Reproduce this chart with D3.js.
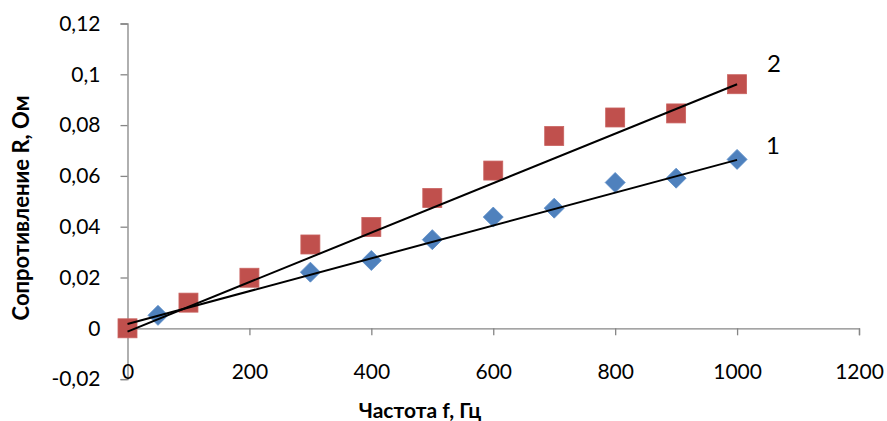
<!DOCTYPE html>
<html>
<head>
<meta charset="utf-8">
<script src="https://cdn.jsdelivr.net/npm/d3@7"></script>
<style>
  html, body { margin: 0; padding: 0; background: #fff; }
  svg { display: block; }
  text { font-family: Lato, "Open Sans", sans-serif; fill: #000; }
</style>
</head>
<body>
<svg id="chart" width="887" height="421"></svg>
<script>
// Frequency (Hz) and resistance (Ohm) for the two samples
const freq1 = [50, 300, 400, 500, 600, 700, 800, 900, 1000];
const res1  = [0.0051, 0.0221, 0.0267, 0.0349, 0.0438, 0.0473, 0.0574, 0.0591, 0.0665];

const freq2 = [0, 100, 200, 300, 400, 500, 600, 700, 800, 900, 1000];
const res2  = [0, 0.0101, 0.0199, 0.033, 0.0399, 0.0513, 0.0621, 0.0757, 0.083, 0.0846, 0.0961];

// Linear trend lines: values at the ends of the frequency range
const trendFreq = [0, 1000];
const trend1 = [0.0017, 0.0663];
const trend2 = [-0.0013, 0.0961];

const xTicks = [0, 200, 400, 600, 800, 1000, 1200];
const yTicks = [-0.02, 0, 0.02, 0.04, 0.06, 0.08, 0.1, 0.12];

const seriesLabels = ["1", "2"];
const xTitle = "Частота f, Гц";
const yTitle = "Сопротивление R, Ом";

const svg = d3.select("#chart");
const axisColor = "#868686";
const blue = "#4F81BD";
const red = "#C0504D";

const x = d3.scaleLinear().domain([0, 1200]).range([127.5, 859]);
const y = d3.scaleLinear().domain([-0.02, 0.12]).range([379.1, 23.5]);

// Decimal comma, plain hyphen for negatives
const fmtY = v => (Math.abs(v) < 1e-9 ? "0" : String(+v.toFixed(3)).replace(".", ","));

// Y axis (vertical line at f = 0)
const yAxis = d3.axisLeft(y).tickValues(yTicks).tickSize(7).tickPadding(20)
  .tickFormat(fmtY);
const gy = svg.append("g").attr("transform", `translate(${x(0)},0)`).call(yAxis);
gy.select(".domain").attr("stroke", axisColor).attr("stroke-width", 1.3);
gy.selectAll(".tick line").attr("stroke", axisColor).attr("stroke-width", 1.3);
gy.selectAll(".tick text").attr("font-size", 21).attr("font-family", "Lato, sans-serif")
  .attr("fill", "#000");

// X axis (horizontal line at R = 0), labels placed along the bottom
const xAxis = d3.axisBottom(x).tickValues(xTicks).tickSize(7).tickFormat(d3.format("d"))
  .tickPadding(0);
const gx = svg.append("g").attr("transform", `translate(0,${y(0)})`).call(xAxis);
gx.select(".domain").attr("stroke", axisColor).attr("stroke-width", 1.3);
gx.selectAll(".tick line").attr("stroke", axisColor).attr("stroke-width", 1.3);
gx.selectAll(".tick text").attr("font-size", 21).attr("font-family", "Lato, sans-serif")
  .attr("fill", "#000").attr("dy", null).attr("y", 379.5 - y(0));

// Markers: series 1 diamonds, series 2 squares
const d1 = freq1.map((f, i) => [f, res1[i]]);
const d2 = freq2.map((f, i) => [f, res2[i]]);

svg.append("g").selectAll("path").data(d1).join("path")
  .attr("d", d3.symbol().type(d3.symbolSquare).size(200))
  .attr("transform", d => `translate(${x(d[0])},${y(d[1])}) rotate(45)`)
  .attr("fill", blue).attr("stroke", "#5b8cc7").attr("stroke-width", 0.8);

svg.append("g").selectAll("rect").data(d2).join("rect")
  .attr("x", d => x(d[0]) - 9.5).attr("y", d => y(d[1]) - 9.5)
  .attr("width", 19).attr("height", 19)
  .attr("fill", red).attr("stroke", "#c9625f").attr("stroke-width", 0.8);

// Trend lines
const line = d3.line().x(d => x(d[0])).y(d => y(d[1]));
[trend1, trend2].forEach(t => {
  svg.append("path")
    .datum(trendFreq.map((f, i) => [f, t[i]]))
    .attr("d", line).attr("fill", "none")
    .attr("stroke", "#000").attr("stroke-width", 2);
});

// Curve labels
svg.append("text").attr("x", x(1000) + 29).attr("y", y(trend1[1]) - 6)
  .attr("font-size", 24).attr("text-anchor", "start").text(seriesLabels[0]);
svg.append("text").attr("x", x(1000) + 30).attr("y", y(trend2[1]) - 12)
  .attr("font-size", 24).attr("text-anchor", "start").text(seriesLabels[1]);

// Axis titles
svg.append("text").attr("x", 420).attr("y", 418)
  .attr("text-anchor", "middle").attr("font-size", 21).attr("font-weight", "bold")
  .text(xTitle);
svg.append("text").attr("transform", "translate(29,208) rotate(-90)")
  .attr("text-anchor", "middle").attr("font-size", 22).attr("font-weight", "bold")
  .text(yTitle);
</script>
</body>
</html>
